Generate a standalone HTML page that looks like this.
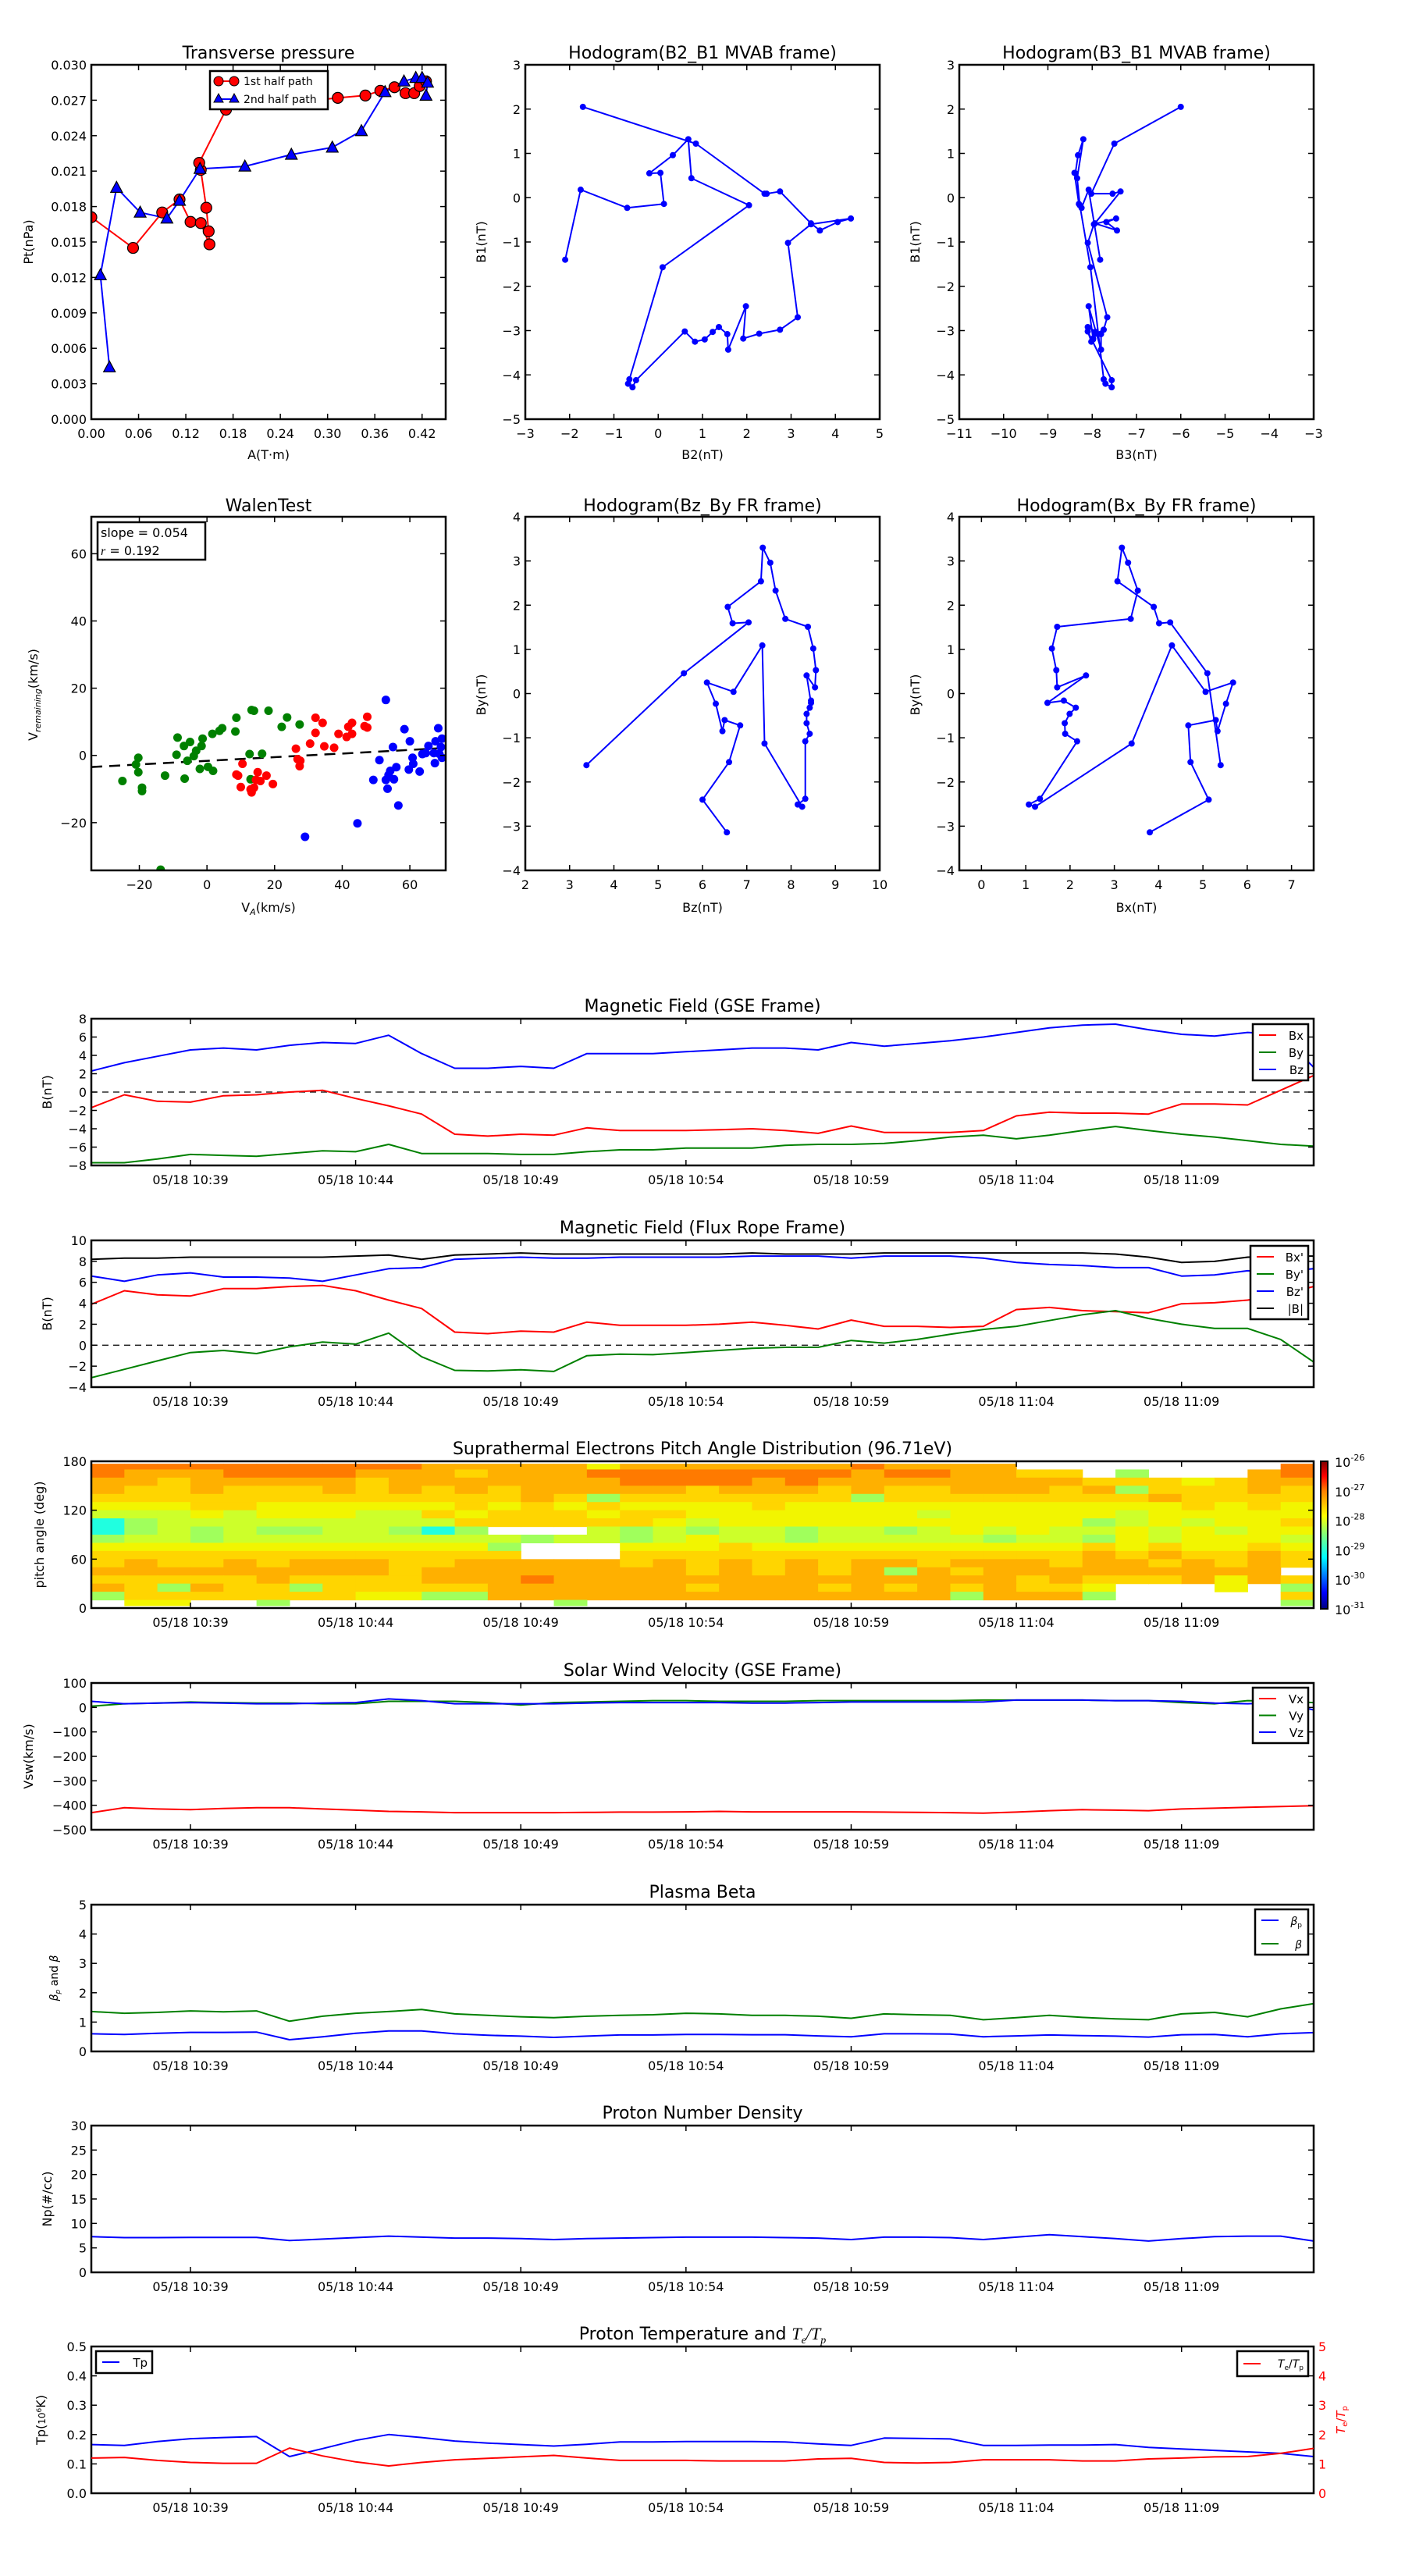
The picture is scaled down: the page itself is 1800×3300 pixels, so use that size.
<!DOCTYPE html>
<html><head><meta charset="utf-8"><title>Flux rope analysis</title>
<style>html,body{margin:0;padding:0;background:#fff}svg{display:block}text{font-family:"DejaVu Sans","Liberation Sans",sans-serif}</style>
</head><body>
<svg id="fig" xmlns="http://www.w3.org/2000/svg" width="1800" height="3300" viewBox="0 0 1800 3300"></svg>
<script>
// ---------- Transverse pressure ----------
const pt1A=[0,0.053,0.09,0.112,0.126,0.139,0.150,0.149,0.146,0.139,0.137,0.171,0.313,0.348,0.367,0.385,0.399,0.41,0.417,0.425];
const pt1P=[0.0171,0.0145,0.0175,0.0186,0.0167,0.0166,0.0148,0.0159,0.0179,0.0211,0.0217,0.0262,0.0272,0.0274,0.0278,0.0281,0.0276,0.0276,0.0282,0.0286];
const pt2A=[0.023,0.0115,0.032,0.062,0.096,0.112,0.138,0.195,0.254,0.306,0.343,0.373,0.397,0.412,0.42,0.427,0.425];
const pt2P=[0.0044,0.0122,0.0196,0.0175,0.0170,0.0185,0.0212,0.0214,0.0224,0.0230,0.0244,0.0277,0.0286,0.0289,0.0289,0.0285,0.0274];
// ---------- MVAB hodograms ----------
const mvB2=[-2.1,-1.75,-0.7,0.13,0.05,-0.2,0.33,0.68,0.75,2.05,0.1,-0.65,-0.68,-0.58,-0.5,0.6,0.83,1.05,1.23,1.37,1.56,1.58,1.98,1.92,2.28,2.75,3.15,2.93,3.45,4.35,4.05,3.65,3.45,2.75,2.45,2.4,0.85,-1.7];
const mvB1=[-1.4,0.18,-0.23,-0.14,0.56,0.55,0.96,1.32,0.44,-0.17,-1.57,-4.1,-4.2,-4.28,-4.12,-3.02,-3.25,-3.2,-3.03,-2.92,-3.08,-3.43,-2.45,-3.18,-3.07,-2.98,-2.7,-1.02,-0.6,-0.47,-0.55,-0.74,-0.58,0.14,0.09,0.09,1.22,2.05];
const mvB3=[-7.82,-8.08,-8.24,-8.3,-8.4,-8.38,-8.32,-8.2,-8.34,-8.28,-8.04,-7.74,-7.7,-7.56,-7.56,-8.1,-8.02,-7.98,-7.92,-8.1,-7.8,-7.8,-8.08,-7.98,-7.92,-7.74,-7.66,-8.1,-7.96,-7.46,-7.68,-7.44,-7.94,-7.36,-7.54,-8.02,-7.5,-6.0];
// ---------- FR hodograms ----------
const frBy=[-1.62,0.46,1.61,1.59,1.96,2.54,3.30,2.96,2.33,1.69,1.51,1.02,0.53,0.14,0.41,-0.21,-0.16,-0.32,-0.46,-0.67,-0.91,-1.08,-2.38,-2.51,-2.56,-1.13,1.09,0.04,0.25,-0.23,-0.85,-0.60,-0.72,-1.55,-2.40,-3.14];
const frBx=[5.40,5.10,4.26,4.01,3.89,3.07,3.17,3.31,3.53,3.37,1.71,1.59,1.69,1.71,2.36,1.49,1.86,2.13,1.99,1.88,1.89,2.16,1.32,1.07,1.21,3.39,4.30,5.06,5.68,5.52,5.33,5.29,4.67,4.72,5.13,3.80];
const frBz=[3.38,5.58,7.04,6.68,6.57,7.32,7.36,7.53,7.65,7.87,8.38,8.5,8.56,8.54,8.35,8.45,8.45,8.42,8.35,8.35,8.42,8.32,8.32,8.15,8.25,7.4,7.35,6.7,6.1,6.3,6.45,6.5,6.85,6.6,6.0,6.55];
// ---------- Walen test ----------
const wgX=[-25,-21,-20.3,-20.3,-19.2,-19.2,-12.4,-13.7,-9,-8.7,-6.8,-6.6,-5.8,-5,-3.9,-3.2,-2.1,-1.6,-1.3,0.3,1.8,1.6,3.7,4.5,8.4,8.7,12.6,13.2,13.9,16.3,18.2,22.1,23.7,27.4,12.9];
const wgY=[-7.6,-2.7,-0.7,-5,-9.6,-10.6,-6,-34,0.2,5.3,2.8,-6.9,-1.6,4,-0.2,1.4,-4,2.8,5,-3.4,-4.6,6.4,7.3,8.1,7.1,11.2,0.4,13.5,13.3,0.5,13.3,8.5,11.3,9.2,-7.1];
const wrX=[10.5,9.2,10,13.2,13.9,15,15.8,17.6,19.5,8.7,12.9,14.5,26.3,26.8,27.4,27.6,30.5,32.1,32.1,34.2,34.7,37.6,38.9,41.3,41.8,42.9,42.9,46.6,47.4,47.4];
const wrY=[-2.5,-6,-9.4,-11,-9.6,-5,-7.6,-6,-8.5,-5.7,-10.1,-7.3,2,-1.1,-3.2,-1.6,3.5,6.7,11.2,9.7,2.7,2.3,6.4,5.5,8.5,9.7,6.4,8.7,11.5,8.3];
const wbX=[29,44.5,49.2,51,52.9,52.9,53.7,53.4,54.2,55,55.3,56,56.6,58.4,59.7,60,60.8,61,62.9,63.7,64.7,65.5,67.1,67.4,67.6,68.4,68.7,69.2,69.5,69.5];
const wbY=[-24.2,-20.2,-7.3,-1.4,16.5,-7.3,-5.8,-9.9,-4.6,2.5,-7.1,-3.5,-14.9,7.8,-4.2,4.2,-0.7,-2.5,-4.8,0.4,0.7,2.8,0.7,-2.3,4.2,8.1,0.5,2.5,5,-0.7];
const walenSlope=0.054, walenIntercept=-1.6;
// ---------- Time series (minutes after 10:36) ----------
const timeTickMin=[3,8,13,18,23,28,33];
const timeTickLabels=["05/18 10:39","05/18 10:44","05/18 10:49","05/18 10:54","05/18 10:59","05/18 11:04","05/18 11:09"];
const gseBx=[-1.7,-0.3,-1.0,-1.1,-0.4,-0.3,0,0.2,-0.7,-1.5,-2.4,-4.6,-4.8,-4.6,-4.7,-3.9,-4.2,-4.2,-4.2,-4.1,-4.0,-4.2,-4.5,-3.7,-4.4,-4.4,-4.4,-4.2,-2.6,-2.2,-2.3,-2.3,-2.4,-1.3,-1.3,-1.4,0.2,1.8];
const gseBy=[-7.7,-7.7,-7.3,-6.8,-6.9,-7.0,-6.7,-6.4,-6.5,-5.7,-6.7,-6.7,-6.7,-6.8,-6.8,-6.5,-6.3,-6.3,-6.1,-6.1,-6.1,-5.8,-5.7,-5.7,-5.6,-5.3,-4.9,-4.7,-5.1,-4.7,-4.2,-3.75,-4.2,-4.6,-4.9,-5.3,-5.7,-5.9];
const gseBz=[2.3,3.2,3.9,4.6,4.8,4.6,5.1,5.4,5.3,6.2,4.2,2.6,2.6,2.8,2.6,4.2,4.2,4.2,4.4,4.6,4.8,4.8,4.6,5.4,5.0,5.3,5.6,6.0,6.5,7.0,7.3,7.4,6.8,6.3,6.1,6.5,6.3,2.7];
const frpBx=[3.9,5.2,4.8,4.7,5.4,5.4,5.6,5.7,5.2,4.3,3.5,1.25,1.1,1.35,1.25,2.2,1.9,1.9,1.9,2.0,2.2,1.9,1.55,2.4,1.8,1.8,1.7,1.8,3.4,3.6,3.3,3.2,3.1,3.95,4.05,4.3,4.8,5.6];
const frpBy=[-3.1,-2.3,-1.5,-0.7,-0.5,-0.8,-0.15,0.3,0.1,1.15,-1.1,-2.4,-2.45,-2.35,-2.5,-1.0,-0.85,-0.9,-0.7,-0.5,-0.3,-0.2,-0.2,0.45,0.2,0.55,1.05,1.5,1.8,2.35,2.9,3.3,2.55,2.0,1.6,1.6,0.55,-1.6];
const frpBz=[6.6,6.1,6.7,6.9,6.5,6.5,6.4,6.1,6.7,7.3,7.4,8.2,8.3,8.4,8.3,8.3,8.4,8.4,8.4,8.4,8.5,8.5,8.5,8.3,8.5,8.5,8.5,8.3,7.9,7.7,7.6,7.4,7.4,6.6,6.7,7.1,7.0,7.3];
const frpB=[8.2,8.3,8.3,8.4,8.4,8.4,8.4,8.4,8.5,8.6,8.2,8.6,8.7,8.8,8.7,8.7,8.7,8.7,8.7,8.7,8.8,8.7,8.7,8.7,8.8,8.8,8.8,8.8,8.8,8.8,8.8,8.7,8.4,7.9,8.0,8.4,8.5,8.5];
const vswX=[-430,-410,-415,-418,-413,-410,-410,-415,-420,-425,-427,-430,-430,-430,-430,-429,-428,-428,-427,-425,-427,-427,-427,-427,-428,-429,-430,-432,-428,-422,-418,-420,-422,-415,-412,-408,-405,-402];
const vswY=[5,15,18,22,20,18,18,15,15,25,25,25,20,10,20,22,25,28,28,25,25,25,28,28,28,28,28,30,30,30,30,28,28,20,15,28,25,20];
const vswZ=[25,15,18,20,18,15,15,18,20,35,28,15,15,15,15,18,20,20,20,20,18,18,20,22,22,22,22,22,30,30,30,28,28,25,18,15,20,-10];
const betaP=[0.6,0.58,0.62,0.65,0.65,0.66,0.4,0.5,0.62,0.7,0.7,0.6,0.55,0.52,0.48,0.52,0.56,0.56,0.58,0.58,0.57,0.57,0.53,0.5,0.6,0.6,0.59,0.5,0.53,0.56,0.54,0.52,0.49,0.57,0.58,0.5,0.6,0.64];
const betaT=[1.36,1.3,1.33,1.38,1.35,1.38,1.03,1.2,1.3,1.36,1.43,1.28,1.23,1.18,1.15,1.2,1.23,1.25,1.3,1.28,1.23,1.23,1.2,1.13,1.28,1.25,1.23,1.08,1.15,1.23,1.16,1.11,1.08,1.28,1.33,1.18,1.45,1.63];
const npVals=[7.3,7.1,7.1,7.15,7.15,7.15,6.5,6.8,7.1,7.4,7.2,7.0,7.0,6.9,6.7,6.9,7.0,7.1,7.2,7.2,7.2,7.1,7.0,6.7,7.2,7.2,7.1,6.7,7.2,7.7,7.3,6.9,6.4,6.9,7.3,7.4,7.4,6.4];
const tpVals=[0.166,0.163,0.176,0.186,0.19,0.193,0.125,0.152,0.18,0.2,0.19,0.178,0.171,0.166,0.161,0.167,0.175,0.175,0.176,0.176,0.176,0.175,0.168,0.163,0.188,0.187,0.185,0.163,0.163,0.164,0.164,0.166,0.156,0.151,0.146,0.141,0.136,0.125];
const teTpVals=[1.2,1.22,1.12,1.05,1.02,1.02,1.54,1.27,1.07,0.93,1.05,1.14,1.19,1.24,1.29,1.2,1.12,1.12,1.12,1.1,1.1,1.1,1.17,1.19,1.05,1.03,1.05,1.14,1.14,1.14,1.1,1.1,1.17,1.2,1.24,1.25,1.36,1.53];
// PAD: rows from 170-180 deg down to 0-10 deg; one char per minute column
const padRows=[
"OOOOOOOOOOoooooYoooooooOoooowwwwwwwwO",
"OoooOOOOoooyoooOOOOOOOOoOOooyywGwwwoO",
"ooyoooooyoooooooOOOOoOooooooooyyyYyoo",
"oyyoyyyoyoyoyoooooyoooyoyyoooyoGyyyoy",
"yyyyyyyyyyyyyoyGyyyyyyyGyyyyyyyyoyyyy",
"YYYyyYYYYYYyYyYyYYYYyYYYYYYYYYYYYyYyY",
"gggYgYYYggyYyyyYyyYYYYYYYgYYYYYgYYYYY",
"cGgggggggggyyyyyyYgYYYYYYYYYYYGgYgYYy",
"cGgGgGGggGcGwwwgGgGggGggGgYgYggYgYgYY",
"GggGgggggggggGggGgYggGgggggGggGYgYYYg",
"YYYYYYYYYYYYGwwwYYYyYYYYYYYYYYyYyYYyY",
"yyyyyyyyyyyyywwwyyyyyyyyyyyyyyoyoyyoy",
"yoyyoyoooyyoooooyoyoyoyooyoooyooyoyoy",
"oooooooooyooooooooyoyoyoGoyooooooooo",
"yyyyyoyyyyoooOooooooooooooooyoyyyoYoy",
"oyGoyyGyyyyyooooooyoooyoyoyoyyYwwwYwG",
"GyyyyyyyYYGGooooooooooooooGoooGwwwwwy",
"wYYwwGwwwwwwwwGwwwwwwwwwwwwwwwwwwwwwG"];
const padColors={O:"#ff7a00",o:"#ffb000",y:"#ffd500",Y:"#f2f500",g:"#cdff2a",G:"#a0ff5c",c:"#20ffe0",w:null};
const cbLabels=["-26","-27","-28","-29","-30","-31"];

// ================= drawing helpers =================
const NS='http://www.w3.org/2000/svg';
const svg=document.getElementById('fig');
function mk(tag,attrs,parent){const e=document.createElementNS(NS,tag);for(const k in attrs)e.setAttribute(k,attrs[k]);(parent||svg).appendChild(e);return e;}
function txt(s,x,y,size,anchor,parent){const t=mk('text',{x:x,y:y,'font-size':size,'text-anchor':anchor||'middle'},parent);t.textContent=s;return t;}
let clipN=0;
function panel(name,x0,y0,x1,y1,xmin,xmax,ymin,ymax){
  const g=mk('g',{});
  
  
  const id='clip'+(clipN++);
  const cp=mk('clipPath',{id:id},g);mk('rect',{x:x0,y:y0,width:x1-x0,height:y1-y0},cp);
  const data=mk('g',{'clip-path':'url(#'+id+')'},g);
  
  
  return {g,data,x0,y0,x1,y1,sx:v=>x0+(v-xmin)/(xmax-xmin)*(x1-x0),sy:v=>y1-(v-ymin)/(ymax-ymin)*(y1-y0)};
}
function frame(p){const r=mk('rect',{x:p.x0,y:p.y0,width:p.x1-p.x0,height:p.y1-p.y0,fill:'none',stroke:'#000','stroke-width':2.5},p.g);
  
  }
function yticks(p,vals,labels,size){
  const g=mk('g',{},p.g);
  
  
  vals.forEach((v,i)=>{const y=p.sy(v);
    mk('line',{x1:p.x0,x2:p.x0+7,y1:y,y2:y,stroke:'#000','stroke-width':1.5},g);
    mk('line',{x1:p.x1,x2:p.x1-7,y1:y,y2:y,stroke:'#000','stroke-width':1.5},g);
    txt(labels[i],p.x0-6,y+6,size||16,'end',g);});
}
function xticks(p,vals,labels,size,dy){
  const g=mk('g',{},p.g);
  
  
  vals.forEach((v,i)=>{const x=p.sx(v);
    mk('line',{x1:x,x2:x,y1:p.y1,y2:p.y1-7,stroke:'#000','stroke-width':1.5},g);
    mk('line',{x1:x,x2:x,y1:p.y0,y2:p.y0+7,stroke:'#000','stroke-width':1.5},g);
    txt(labels[i],x,p.y1+(dy||24),size||16,'middle',g);});
}
function polyline(p,xs,ys,color,w,name){
  const pts=xs.map((x,i)=>p.sx(x).toFixed(1)+','+p.sy(ys[i]).toFixed(1)).join(' ');
  const l=mk('polyline',{points:pts,fill:'none',stroke:color,'stroke-width':w||2,'stroke-linejoin':'round'},p.data);
  
  
  return l;
}
function dots(p,xs,ys,color,r,name,edge){
  const g=mk('g',{},p.data);
  
  
  xs.forEach((x,i)=>{const c=mk('circle',{cx:p.sx(x),cy:p.sy(ys[i]),r:r,fill:color},g);if(edge){c.setAttribute('stroke','#000');c.setAttribute('stroke-width',1.2);}});
}
function title(s,x,y,name){const t=txt(s,x,y,22,'middle');
  
  return t;}
function ylabel(s,x,y,name){const t=txt(s,0,0,16,'middle');t.setAttribute('transform','translate('+x+','+y+') rotate(-90)');
  
  return t;}
function xlabel(s,x,y,name){const t=txt(s,x,y,16,'middle');
  
  return t;}
function range(a,b,s){const r=[];for(let v=a;v<=b+1e-9;v+=s)r.push(+v.toFixed(6));return r;}
function legend(x,y,w,h,items,name){
  const g=mk('g',{});
  
  
  mk('rect',{x:x,y:y,width:w,height:h,fill:'#fff',stroke:'#000','stroke-width':2.5},g);
  items.forEach((it,i)=>{const yy=y+14+i*(h-28)/Math.max(1,items.length-1)+(items.length==1?(h-28)/2:0);
    mk('line',{x1:x+8,x2:x+30,y1:yy,y2:yy,stroke:it[1],'stroke-width':2},g);
    const t=txt(it[0],x+w-6,yy+6,15,'end',g);if(it[2])t.setAttribute('font-style','italic');});
  return g;
}

// ================= Row 1 =================
// Transverse pressure
let p=panel('transverse-pressure-chart',117,83,571,537,0,0.45,0,0.030);
polyline(p,pt1A,pt1P,'#f00',2,'first-half-path-line');
polyline(p,pt2A,pt2P,'#00f',2,'second-half-path-line');
dots(p,pt1A,pt1P,'#f00',7,'first-half-path-markers',true);
{const g=mk('g',{},p.data);
 
 
 pt2A.forEach((a,i)=>{const x=p.sx(a),y=p.sy(pt2P[i]);mk('polygon',{points:(x)+','+(y-8)+' '+(x-7.5)+','+(y+6)+' '+(x+7.5)+','+(y+6),fill:'#00f',stroke:'#000','stroke-width':1.2},g);});}
frame(p);
yticks(p,range(0,0.030,0.003),range(0,0.030,0.003).map(v=>v.toFixed(3)));
xticks(p,range(0,0.42,0.06),range(0,0.42,0.06).map(v=>v.toFixed(2)));
title('Transverse pressure',344,75,'transverse-pressure-title');
ylabel('Pt(nPa)',42,310,'pt-axis-title');
xlabel('A(T·m)',344,588,'a-axis-title');
{const g=mk('g',{});
 
 
 mk('rect',{x:269,y:91,width:151,height:49,fill:'#fff',stroke:'#000','stroke-width':2.5},g);
 mk('line',{x1:278,x2:302,y1:104,y2:104,stroke:'#f00','stroke-width':2},g);
 mk('circle',{cx:280,cy:104,r:6,fill:'#f00',stroke:'#000'},g);mk('circle',{cx:300,cy:104,r:6,fill:'#f00',stroke:'#000'},g);
 mk('line',{x1:278,x2:302,y1:127,y2:127,stroke:'#00f','stroke-width':2},g);
 mk('polygon',{points:'280,120 274,131 286,131',fill:'#00f',stroke:'#000'},g);mk('polygon',{points:'300,120 294,131 306,131',fill:'#00f',stroke:'#000'},g);
 txt('1st half path',312,109,14,'start',g);txt('2nd half path',312,132,14,'start',g);}

// Hodogram B2_B1
p=panel('hodogram-b2-b1-chart',673,83,1127,537,-3,5,-5,3);
polyline(p,mvB2,mvB1,'#00f',2,'b2-b1-path');dots(p,mvB2,mvB1,'#00f',4,'b2-b1-points');
frame(p);yticks(p,range(-5,3,1),range(-5,3,1).map(v=>v<0?'−'+(-v):''+v));xticks(p,range(-3,5,1),range(-3,5,1).map(v=>v<0?'−'+(-v):''+v));
title('Hodogram(B2_B1 MVAB frame)',900,75,'hodogram-b2-b1-title');ylabel('B1(nT)',622,310,'b1-axis-title');xlabel('B2(nT)',900,588,'b2-axis-title');

// Hodogram B3_B1
p=panel('hodogram-b3-b1-chart',1229,83,1683,537,-11,-3,-5,3);
polyline(p,mvB3,mvB1,'#00f',2,'b3-b1-path');dots(p,mvB3,mvB1,'#00f',4,'b3-b1-points');
frame(p);yticks(p,range(-5,3,1),range(-5,3,1).map(v=>v<0?'−'+(-v):''+v));xticks(p,range(-11,-3,1),range(-11,-3,1).map(v=>'−'+(-v)));
title('Hodogram(B3_B1 MVAB frame)',1456,75,'hodogram-b3-b1-title');ylabel('B1(nT)',1178,310,'b1-axis-title-2');xlabel('B3(nT)',1456,588,'b3-axis-title');

// ================= Row 2 =================
p=panel('walen-test-chart',117,662,571,1115,-34.2,70.6,-34.2,71);
{const xs=[-34.2,70.6];const ys=xs.map(x=>walenSlope*x+walenIntercept);
 const l=polyline(p,xs,ys,'#000',2.5,'walen-fit-line');l.setAttribute('stroke-dasharray','14,9');}
dots(p,wgX,wgY,'#008000',5.5,'walen-points-green');
dots(p,wrX,wrY,'#f00',5.5,'walen-points-red');
dots(p,wbX,wbY,'#00f',5.5,'walen-points-blue');
frame(p);yticks(p,[-20,0,20,40,60],['−20','0','20','40','60']);xticks(p,[-20,0,20,40,60],['−20','0','20','40','60']);
title('WalenTest',344,655,'walen-test-title');
{const t=txt('',48,890,16,'middle');t.setAttribute('transform','rotate(-90 48 890)');
 
 
 t.innerHTML='V<tspan font-size="11" font-style="italic" dy="4">remaining</tspan><tspan dy="-4">(km/s)</tspan>';}
{const t=txt('',344,1168,16,'middle');
 
 
 t.innerHTML='V<tspan font-size="11" font-style="italic" dy="4">A</tspan><tspan dy="-4">(km/s)</tspan>';}
{const g=mk('g',{});
 
 
 mk('rect',{x:125,y:669,width:138,height:48,fill:'#fff',stroke:'#000','stroke-width':2.5},g);
 txt('slope = 0.054',129,688,16,'start',g);
 const t=txt('',129,711,16,'start',g);t.innerHTML='<tspan font-style="italic" font-family="Liberation Serif">r</tspan> = 0.192';}

p=panel('hodogram-bz-by-chart',673,662,1127,1115,2,10,-4,4);
polyline(p,frBz,frBy,'#00f',2,'bz-by-path');dots(p,frBz,frBy,'#00f',4,'bz-by-points');
frame(p);yticks(p,range(-4,4,1),range(-4,4,1).map(v=>v<0?'−'+(-v):''+v));xticks(p,range(2,10,1),range(2,10,1).map(v=>''+v));
title('Hodogram(Bz_By FR frame)',900,655,'hodogram-bz-by-title');ylabel('By(nT)',622,890,'by-axis-title');xlabel('Bz(nT)',900,1168,'bz-axis-title');

p=panel('hodogram-bx-by-chart',1229,662,1683,1115,-0.5,7.5,-4,4);
polyline(p,frBx,frBy,'#00f',2,'bx-by-path');dots(p,frBx,frBy,'#00f',4,'bx-by-points');
frame(p);yticks(p,range(-4,4,1),range(-4,4,1).map(v=>v<0?'−'+(-v):''+v));xticks(p,range(0,7,1),range(0,7,1).map(v=>''+v));
title('Hodogram(Bx_By FR frame)',1456,655,'hodogram-bx-by-title');ylabel('By(nT)',1178,890,'by-axis-title-2');xlabel('Bx(nT)',1456,1168,'bx-axis-title');

// ================= Time series =================
const T=range(0,37,1);
const TX0=117,TX1=1683,TH=188;
function tpanel(name,top,ymin,ymax){return panel(name,TX0,top,TX1,top+TH,0,37,ymin,ymax);}
function zeroLine(p){const l=mk('line',{x1:p.x0,x2:p.x1,y1:p.sy(0),y2:p.sy(0),stroke:'#000','stroke-width':1.3,'stroke-dasharray':'8,6'},p.data);
  
  }
const cx=(TX0+TX1)/2;

// GSE
p=tpanel('magnetic-field-gse-chart',1305,-8,8);
zeroLine(p);
polyline(p,T,gseBx,'#f00',2,'gse-bx-line');polyline(p,T,gseBy,'#008000',2,'gse-by-line');polyline(p,T,gseBz,'#00f',2,'gse-bz-line');
frame(p);yticks(p,range(-8,8,2),range(-8,8,2).map(v=>v<0?'−'+(-v):''+v));xticks(p,timeTickMin,timeTickLabels);
title('Magnetic Field (GSE Frame)',cx,1296,'gse-title');ylabel('B(nT)',66,1399,'gse-y-axis-title');
legend(1605,1312,71,72,[['Bx','#f00'],['By','#008000'],['Bz','#00f']],'gse-legend');

// Flux rope frame
p=tpanel('magnetic-field-flux-rope-chart',1589,-4,10);
zeroLine(p);
polyline(p,T,frpBx,'#f00',2,'fr-bx-line');polyline(p,T,frpBy,'#008000',2,'fr-by-line');polyline(p,T,frpBz,'#00f',2,'fr-bz-line');polyline(p,T,frpB,'#000',2,'fr-btotal-line');
frame(p);yticks(p,range(-4,10,2),range(-4,10,2).map(v=>v<0?'−'+(-v):''+v));xticks(p,timeTickMin,timeTickLabels);
title('Magnetic Field (Flux Rope Frame)',cx,1580,'flux-rope-title');ylabel('B(nT)',66,1683,'fr-y-axis-title');
legend(1602,1596,74,94,[["Bx'",'#f00'],["By'",'#008000'],["Bz'",'#00f'],['|B|','#000']],'flux-rope-legend');

// PAD
p=tpanel('pitch-angle-distribution-chart',1872,0,180);
{const g=mk('g',{},p.data);
 
 
 padRows.forEach((row,ri)=>{const hi=180-ri*10,lo=hi-10;
   for(let c=0;c<37;c++){const col=padColors[row[c]||'w'];if(!col)continue;
     const hiC=Math.min(hi,177), loC=Math.max(lo,3);
     mk('rect',{x:p.sx(c),y:p.sy(hiC),width:p.sx(c+1)-p.sx(c)+0.6,height:p.sy(loC)-p.sy(hiC)+0.6,fill:col},g);}});}
frame(p);yticks(p,[0,60,120,180],['0','60','120','180']);xticks(p,timeTickMin,timeTickLabels);
title('Suprathermal Electrons Pitch Angle Distribution (96.71eV)',cx,1863,'pad-title');ylabel('pitch angle (deg)',56,1966,'pad-y-axis-title');
{const g=mk('g',{});
 
 
 const d=mk('defs',{},g);const lg=mk('linearGradient',{id:'jet',x1:0,y1:1,x2:0,y2:0},d);
 [['0','#00007f'],['0.11','#0000ff'],['0.35','#00ffff'],['0.5','#7fff7f'],['0.63','#ffff00'],['0.8','#ff8000'],['0.9','#ff0000'],['1','#7f0000']].forEach(s=>mk('stop',{offset:s[0],'stop-color':s[1]},lg));
 mk('rect',{x:1692,y:1872,width:9,height:189,fill:'url(#jet)',stroke:'#000','stroke-width':2},g);
 cbLabels.forEach((l,i)=>{const y=1872+i*189/5;const t=txt('',1710,y+7,16,'start',g);t.innerHTML='10<tspan font-size="11" dy="-8">'+l+'</tspan>';});}

// Vsw
p=tpanel('solar-wind-velocity-chart',2156,-500,100);
polyline(p,T,vswX,'#f00',2,'vx-line');polyline(p,T,vswY,'#008000',2,'vy-line');polyline(p,T,vswZ,'#00f',2,'vz-line');
frame(p);yticks(p,range(-500,100,100),range(-500,100,100).map(v=>v<0?'−'+(-v):''+v));xticks(p,timeTickMin,timeTickLabels);
title('Solar Wind Velocity (GSE Frame)',cx,2147,'vsw-title');ylabel('Vsw(km/s)',42,2250,'vsw-y-axis-title');
legend(1605,2162,71,71,[['Vx','#f00'],['Vy','#008000'],['Vz','#00f']],'vsw-legend');

// Beta
p=tpanel('plasma-beta-chart',2440,0,5);
polyline(p,T,betaP,'#00f',2,'beta-p-line');polyline(p,T,betaT,'#008000',2,'beta-line');
frame(p);yticks(p,range(0,5,1),range(0,5,1).map(v=>''+v));xticks(p,timeTickMin,timeTickLabels);
title('Plasma Beta',cx,2431,'beta-title');
{const t=txt('',0,0,14,'middle');t.setAttribute('transform','translate(74,2534) rotate(-90)');
 
 
 t.innerHTML='<tspan font-style="italic">β</tspan><tspan font-size="9" font-style="italic" dy="3">p</tspan><tspan dy="-3"> and </tspan><tspan font-style="italic">β</tspan>';}
{const g=legend(1608,2446,68,58,[['',  '#00f'],['','#008000']],'beta-legend');
 const a=txt('',1668,2466,14,'end',g);a.innerHTML='<tspan font-style="italic">β</tspan><tspan font-size="9" dy="3">p</tspan>';
 const b=txt('',1668,2496,14,'end',g);b.innerHTML='<tspan font-style="italic">β</tspan>';}

// Np
p=tpanel('proton-density-chart',2723,0,30);
polyline(p,T,npVals,'#00f',2,'np-line');
frame(p);yticks(p,range(0,30,5),range(0,30,5).map(v=>''+v));xticks(p,timeTickMin,timeTickLabels);
title('Proton Number Density',cx,2714,'np-title');ylabel('Np(#/cc)',66,2817,'np-y-axis-title');

// Tp
p=tpanel('proton-temperature-chart',3006,0,0.5);
polyline(p,T,tpVals,'#00f',2,'tp-line');
{const p2=panel('te-tp-axis',TX0,3006,TX1,3006+TH,0,37,0,5);
 polyline(p2,T,teTpVals,'#f00',2,'te-tp-line');
 const g=mk('g',{},p2.g);
 
 
 range(0,5,1).forEach(v=>{const y=p2.sy(v);txt(''+v,TX1+6,y+6,16,'start',g).setAttribute('fill','#f00');});}
frame(p);yticks(p,range(0,0.5,0.1),range(0,0.5,0.1).map(v=>v.toFixed(1)));xticks(p,timeTickMin,timeTickLabels);
{const t=txt('',cx,2997,22,'middle');
 
 
 t.innerHTML='Proton Temperature and <tspan font-family="Liberation Serif" font-style="italic">T</tspan><tspan font-family="Liberation Serif" font-style="italic" font-size="14" dy="5">e</tspan><tspan font-family="Liberation Serif" font-style="italic" dy="-5">/T</tspan><tspan font-family="Liberation Serif" font-style="italic" font-size="14" dy="5">p</tspan>';}
{const t=txt('',0,0,16,'middle');t.setAttribute('transform','translate(58,3100) rotate(-90)');
 
 
 t.innerHTML='Tp(<tspan font-size="12">10<tspan font-size="9" dy="-5">6</tspan></tspan><tspan dy="5">K)</tspan>';}
{const t=txt('',0,0,15,'middle');t.setAttribute('transform','translate(1723,3100) rotate(-90)');
 t.setAttribute('fill','#f00');
 
 
 t.innerHTML='<tspan font-style="italic">T</tspan><tspan font-size="10" dy="3">e</tspan><tspan dy="-3">/</tspan><tspan font-style="italic">T</tspan><tspan font-size="10" dy="3">p</tspan>';}
legend(123,3012,72,28,[['Tp','#00f']],'tp-legend');
{const g=legend(1585,3012,91,32,[['','#f00']],'te-tp-legend');
 const t=txt('',1670,3033,14,'end',g);t.innerHTML='<tspan font-style="italic">T</tspan><tspan font-size="9" dy="3">e</tspan><tspan dy="-3">/</tspan><tspan font-style="italic">T</tspan><tspan font-size="9" dy="3">p</tspan>';}
</script>
</body></html>
